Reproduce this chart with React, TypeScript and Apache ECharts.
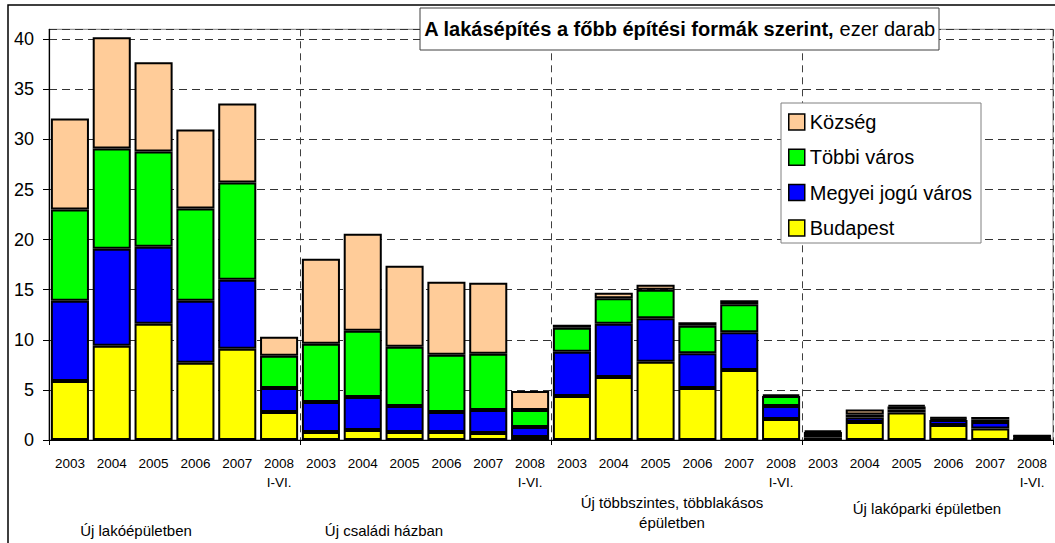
import React, { useEffect, useRef } from "react";
import * as echarts from "echarts";

const years = ["2003", "2004", "2005", "2006", "2007", "2008\nI-VI."];
const groupNames = [
  "Új lakóépületben",
  "Új családi házban",
  "Új többszintes, többlakásos\népületben",
  "Új lakóparki épületben",
];
const categories = [...years, ...years, ...years, ...years];

const seriesNames = ["Budapest", "Megyei jogú város", "Többi város", "Község"];
const budapest = [5.9, 9.4, 11.6, 7.7, 9.1, 2.8, 0.8, 1.0, 0.8, 0.8, 0.7, 0.3, 4.4, 6.3, 7.8, 5.2, 7.0, 2.1, 0.25, 1.8, 2.75, 1.5, 1.15, 0.25];
const megyei = [8.0, 9.7, 7.7, 6.2, 6.9, 2.4, 3.0, 3.3, 2.6, 2.0, 2.3, 1.0, 4.4, 5.3, 4.35, 3.45, 3.75, 1.3, 0.35, 0.45, 0.3, 0.5, 0.65, 0.1];
const tobbi = [9.1, 10.0, 9.5, 9.2, 9.7, 3.2, 5.8, 6.6, 5.9, 5.7, 5.6, 1.7, 2.4, 2.55, 2.85, 2.75, 2.8, 1.0, 0.2, 0.3, 0.3, 0.15, 0.25, 0.05];
const kozseg = [9.1, 11.1, 8.9, 7.9, 7.9, 1.9, 8.5, 9.7, 8.1, 7.3, 7.1, 1.9, 0.3, 0.55, 0.5, 0.35, 0.4, 0.15, 0.15, 0.5, 0.15, 0.15, 0.25, 0.05];
const seriesValues = [budapest, megyei, tobbi, kozseg];
const seriesColors = ["#FFFF00", "#0000FF", "#00FF00", "#FFCC99"];

const yTicks = [0, 5, 10, 15, 20, 25, 30, 35, 40];

const FONT = "'Liberation Sans', Arial, sans-serif";

export default function App() {
  const ref = useRef<HTMLDivElement>(null);
  useEffect(() => {
    if (!ref.current) return;
    const chart = echarts.init(ref.current, null, { renderer: "svg" });
    const groupLabelPos = [
      { x: 136, y: 530 },
      { x: 384, y: 530 },
      { x: 672, y: 512 },
      { x: 927, y: 508 },
    ];
    chart.setOption({
      animation: false,
      backgroundColor: "#ffffff",
      textStyle: { fontFamily: FONT },
      grid: {
        left: 49,
        right: 2,
        top: 29.3,
        bottom: 103,
        show: true,
        borderColor: "#808080",
        borderWidth: 1,
        backgroundColor: "transparent",
      },
      legend: {
        data: ["Község", "Többi város", "Megyei jogú város", "Budapest"],
        orient: "vertical",
        left: 788,
        top: 112,
        padding: 0,
        itemWidth: 16,
        itemHeight: 16,
        itemGap: 15.3,
        icon: "rect",
        itemStyle: { borderColor: "#000", borderWidth: 1.5 },
        textStyle: { fontSize: 20, color: "#000", fontFamily: FONT },
        z: 10,
      },
      xAxis: {
        type: "category",
        data: categories,
        boundaryGap: true,
        axisLine: { lineStyle: { color: "#000", width: 1.2 } },
        axisTick: {
          show: true,
          length: 5,
          interval: (i: number) => i % 6 === 0,
          lineStyle: { color: "#000" },
        },
        axisLabel: {
          interval: 0,
          fontSize: 13.5,
          color: "#000",
          margin: 14,
          lineHeight: 19,
          fontFamily: FONT,
        },
        splitLine: {
          show: true,
          interval: (i: number) => i > 0 && i % 6 === 0,
          lineStyle: { color: "#404040", type: [7, 5], width: 1 },
        },
      },
      yAxis: {
        type: "value",
        min: 0,
        max: 41,
        interval: 5,
        axisLine: { show: true, lineStyle: { color: "#000", width: 1.2 } },
        axisTick: { show: true, length: 6, lineStyle: { color: "#000" } },
        axisLabel: {
          fontSize: 18,
          color: "#000",
          margin: 15,
          fontFamily: FONT,
          showMaxLabel: false,
          formatter: (v: number) => (yTicks.includes(v) ? String(v) : ""),
        },
        splitLine: {
          show: true,
          lineStyle: { color: "#333", type: [8, 5], width: 1 },
        },
      },
      series: seriesNames.map((name, k) => ({
        name,
        type: "bar",
        stack: "total",
        data: seriesValues[k],
        barCategoryGap: "9%",
        itemStyle: {
          color: seriesColors[k],
          borderColor: "#000",
          borderWidth: 2,
        },
      })),
      graphic: [
        {
          type: "rect",
          shape: { x: 8, y: 5, width: 1200, height: 700 },
          style: { fill: "none", stroke: "#000", lineWidth: 1.5 },
          z: 0,
          silent: true,
        },
        {
          type: "rect",
          shape: { x: 781, y: 103, width: 200, height: 140 },
          style: { fill: "#fff", stroke: "#808080", lineWidth: 1 },
          z: 5,
          silent: true,
        },
        {
          type: "rect",
          shape: { x: 420, y: 8, width: 519, height: 42 },
          style: { fill: "#fff", stroke: "#404040", lineWidth: 1 },
          z: 20,
          silent: true,
        },
        {
          type: "text",
          x: 679.5,
          y: 29,
          z: 21,
          silent: true,
          style: {
            text: "{b|A lakásépítés a főbb építési formák szerint,}{n| ezer darab}",
            align: "center",
            verticalAlign: "middle",
            rich: {
              b: { fontSize: 20, fontWeight: "bold", fontFamily: FONT, fill: "#000" },
              n: { fontSize: 20, fontFamily: FONT, fill: "#000" },
            },
          },
        },
        ...groupNames.map((g, i) => ({
          type: "text",
          x: groupLabelPos[i].x,
          y: groupLabelPos[i].y,
          z: 21,
          silent: true,
          style: {
            text: g,
            align: "center",
            verticalAlign: "middle",
            fontSize: 15,
            lineHeight: 20,
            fontFamily: FONT,
            fill: "#000",
          },
        })),
      ],
    });
    return () => chart.dispose();
  }, []);
  return (
    <div
      ref={ref}
      style={{ position: "absolute", left: 0, top: 0, width: 1055, height: 543 }}
    />
  );
}
